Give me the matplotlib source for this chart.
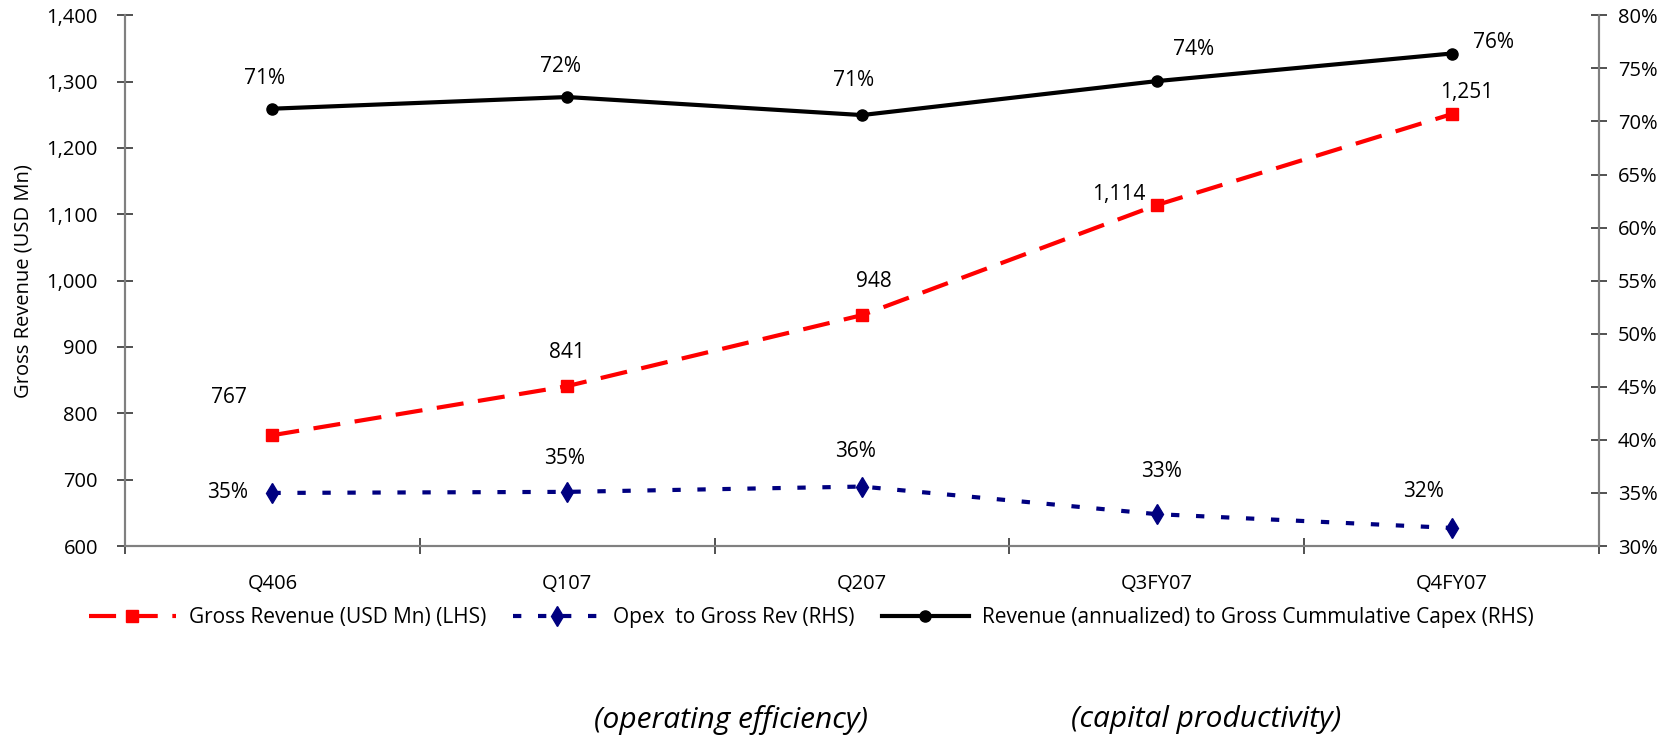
import matplotlib
matplotlib.use("Agg")
import matplotlib.pyplot as plt

# Quarterly figures
quarters = ["Q406", "Q107", "Q207", "Q3FY07", "Q4FY07"]
gross_revenue = [767, 841, 948, 1114, 1251]
opex_to_rev = [0.350, 0.351, 0.356, 0.330, 0.317]
rev_to_capex = [0.712, 0.723, 0.706, 0.738, 0.764]

# label offsets in pixels (dx, dy) for each point
rev_offsets = [(-43, 38), (0, 34), (12, 34), (-38, 11), (15, 22)]
opex_offsets = [(-45, 0), (-3, 33), (-6, 35), (5, 43), (-28, 36)]
capex_offsets = [(-8, 30), (-7, 31), (-8, 35), (37, 32), (42, 11)]

plt.rcParams["font.family"] = ["Open Sans", "DejaVu Sans"]

fig = plt.figure(figsize=(16.71, 7.38), dpi=100)
ax = fig.add_axes([125 / 1671, 1 - 546 / 738, (1599 - 125) / 1671, (546 - 15.3) / 738])
ax2 = ax.twinx()

x = list(range(len(quarters)))

l1, = ax.plot(x, gross_revenue, color="#FF0000", lw=3, ls=(0, (6.5, 3.5)),
              marker="s", ms=8.5, mec="#FF0000", mfc="#FF0000",
              label="Gross Revenue (USD Mn) (LHS)", zorder=3)
l2, = ax2.plot(x, opex_to_rev, color="#000080", lw=3, ls=(0, (2, 4)),
               marker="d", ms=10, mec="#000080", mfc="#000080",
               label="Opex  to Gross Rev (RHS)", zorder=3)
l3, = ax2.plot(x, rev_to_capex, color="black", lw=3, ls="-",
               marker="o", ms=8, label="Revenue (annualized) to Gross Cummulative Capex (RHS)",
               zorder=3)

for xi, v, (dx, dy) in zip(x, gross_revenue, rev_offsets):
    ax.annotate(f"{v:,}", (xi, v), xytext=(dx, dy), textcoords="offset pixels",
                ha="center", va="center", fontsize=15)
for xi, v, (dx, dy) in zip(x, opex_to_rev, opex_offsets):
    ax2.annotate(f"{v:.0%}", (xi, v), xytext=(dx, dy), textcoords="offset pixels",
                 ha="center", va="center", fontsize=15)
for xi, v, (dx, dy) in zip(x, rev_to_capex, capex_offsets):
    ax2.annotate(f"{v:.0%}", (xi, v), xytext=(dx, dy), textcoords="offset pixels",
                 ha="center", va="center", fontsize=15)

ax.set_xlim(-0.5, len(quarters) - 0.5)
ax.set_ylim(600, 1400)
ax.set_yticks(range(600, 1401, 100))
ax.set_yticklabels([f"{v:,}" for v in range(600, 1401, 100)])
ax2.set_ylim(0.30, 0.80)
ax2.set_yticks([i / 100 for i in range(30, 81, 5)])
ax2.set_yticklabels([f"{i}%" for i in range(30, 81, 5)])

# category separators as major ticks, labels on minor ticks
ax.set_xticks([i + 0.5 for i in range(-1, len(quarters))])
ax.set_xticklabels([])
ax.set_xticks(x, minor=True)
ax.set_xticklabels(quarters, minor=True)
ax.tick_params(axis="x", which="minor", length=0, pad=20, labelsize=14.5)
ax.tick_params(axis="x", which="major", direction="inout", length=11, width=1.2, color="#333333")
ax.tick_params(axis="y", direction="inout", length=11, width=1.2, color="#333333",
               pad=14, labelsize=14.5)
ax2.tick_params(axis="y", direction="inout", length=11, width=1.2, color="#333333",
                pad=8, labelsize=14.5)

for a in (ax, ax2):
    a.spines["top"].set_visible(False)
    for s in ("left", "right", "bottom"):
        a.spines[s].set_color("#808080")
        a.spines[s].set_linewidth(1.5)

ax.set_ylabel("Gross Revenue (USD Mn)", fontsize=14.5)
ax.yaxis.set_label_coords(-0.062, 0.50)

fig.legend(handles=[l1, l2, l3], loc="center", bbox_to_anchor=(811 / 1671, 1 - 618 / 738),
           ncol=3, frameon=False, fontsize=15, handlelength=4.2, handletextpad=0.6,
           columnspacing=1.3)

fig.text(731 / 1671, 1 - 720 / 738, "(operating efficiency)", ha="center", va="center",
         fontsize=21.5, style="italic")
fig.text(1206 / 1671, 1 - 720 / 738, "(capital productivity)", ha="center", va="center",
         fontsize=21.5, style="italic")

fig.savefig("out.png", dpi=100)
